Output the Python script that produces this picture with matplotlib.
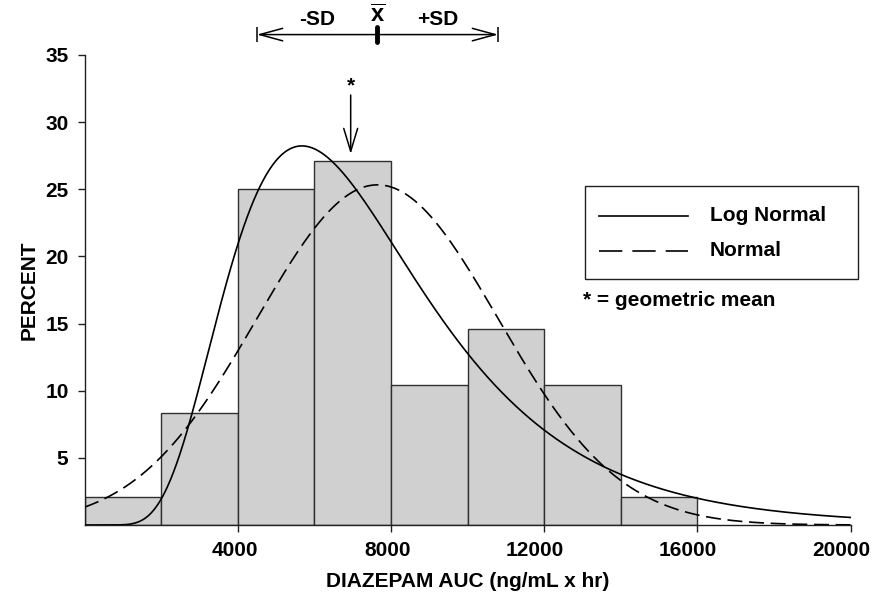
import numpy as np
import matplotlib
matplotlib.use("Agg")
import matplotlib.pyplot as plt
from matplotlib.patches import Rectangle
from matplotlib.transforms import ScaledTranslation

plt.rcParams["font.family"] = ["Liberation Sans", "DejaVu Sans"]
plt.rcParams["font.weight"] = "bold"
plt.rcParams["mathtext.fontset"] = "custom"
plt.rcParams["mathtext.bf"] = "Liberation Sans:bold"
plt.rcParams["mathtext.rm"] = "Liberation Sans:bold"

# Histogram of diazepam AUC (percent of subjects per 2000 ng/mL x hr bin)
bin_edges = [0, 2000, 4000, 6000, 8000, 10000, 12000, 14000, 16000]
percent = [2.08, 8.33, 25.0, 27.08, 10.42, 14.58, 10.42, 2.08]

# Fitted distribution parameters
arith_mean = 7650.0
arith_sd = 3150.0
geo_mean = 6950.0
log_sd = 0.45

x_ticks = [4000, 8000, 12000, 16000, 20000]
y_ticks = [5, 10, 15, 20, 25, 30, 35]

bin_width = bin_edges[1] - bin_edges[0]
FS = 15

fig = plt.figure(figsize=(8.76, 5.96), dpi=100)
ax = fig.add_axes([84.5 / 876, 71 / 596, 766 / 876, 470 / 596])
ax.set_xlim(0, 20000)
ax.set_ylim(0, 35)

ax.bar(bin_edges[:-1], percent, width=bin_width, align="edge",
       color="#d0d0d0", edgecolor="#303030", linewidth=1.0, zorder=1)

# Density curves scaled to percent per bin
x = np.linspace(1, 20000, 1000)
scale = bin_width * 100
lognorm = (np.exp(-(np.log(x) - np.log(geo_mean)) ** 2 / (2 * log_sd ** 2))
           / (x * log_sd * np.sqrt(2 * np.pi))) * scale
norm = (np.exp(-(x - arith_mean) ** 2 / (2 * arith_sd ** 2))
        / (arith_sd * np.sqrt(2 * np.pi))) * scale
ax.plot(x, lognorm, color="black", lw=1.2, zorder=3)
ax.plot(x, norm, color="black", lw=1.2, dashes=(9, 4), zorder=3)

for side in ("top", "right"):
    ax.spines[side].set_visible(False)
for side in ("left", "bottom"):
    ax.spines[side].set_linewidth(1.0)
    ax.spines[side].set_color("#202020")

ax.set_xticks(x_ticks)
ax.set_yticks(y_ticks)
ax.tick_params(length=5, width=1.0, pad=6.5, labelsize=FS, color="#202020")
# x tick labels sit right-aligned a little past their ticks
shift = ScaledTranslation(20 / 100, 0, fig.dpi_scale_trans)
for lbl in ax.get_xticklabels():
    lbl.set_horizontalalignment("right")
    lbl.set_transform(lbl.get_transform() + shift)
ax.set_xlabel("DIAZEPAM AUC (ng/mL x hr)", fontsize=FS, fontweight="bold", labelpad=9)
ax.set_ylabel("PERCENT", fontsize=FS, fontweight="bold", labelpad=5)

# Mean +/- SD marker above the plot
y_sd = 36.52
ax.annotate("", xy=(arith_mean - arith_sd, y_sd), xytext=(arith_mean + arith_sd, y_sd),
            arrowprops=dict(arrowstyle="<->,head_length=1.65,head_width=0.45",
                            lw=1.1, color="black", shrinkA=0, shrinkB=0,
                            mutation_scale=10),
            annotation_clip=False)
ax.vlines([arith_mean - arith_sd, arith_mean + arith_sd], 36.0, 37.05,
          color="black", lw=1.1, clip_on=False)
ax.plot([arith_mean, arith_mean], [35.95, 37.05], color="black", lw=3.5,
        solid_capstyle="round", clip_on=False)
ax.text(arith_mean - arith_sd / 2, 37.2, "-SD", ha="center", va="baseline",
        fontsize=FS, fontweight="bold")
ax.text(arith_mean + arith_sd / 2, 37.2, "+SD", ha="center", va="baseline",
        fontsize=FS, fontweight="bold")
ax.text(arith_mean, 37.4, r"$\overline{\mathbf{x}}$", ha="center", va="baseline",
        fontsize=17)

# Geometric mean marker
ax.text(geo_mean, 32.7, "*", ha="center", va="center", fontsize=FS, fontweight="bold")
ax.annotate("", xy=(geo_mean, 27.63), xytext=(geo_mean, 32.02),
            arrowprops=dict(arrowstyle="->,head_length=1.65,head_width=0.5",
                            lw=1.1, color="black", shrinkA=0, shrinkB=0,
                            mutation_scale=10),
            annotation_clip=False)

# Legend box
ax.add_patch(Rectangle((0.6534, 0.523), 0.3564, 0.199, transform=ax.transAxes,
                       fill=False, edgecolor="#202020", lw=1.0, clip_on=False))
ax.plot([0.6723, 0.788], [0.658, 0.658], transform=ax.transAxes, color="black",
        lw=1.2, clip_on=False)
ax.plot([0.6723, 0.788], [0.584, 0.584], transform=ax.transAxes, color="black",
        lw=1.2, dashes=(14, 6), clip_on=False)
ax.text(0.8166, 0.658, "Log Normal", transform=ax.transAxes, ha="left", va="center",
        fontsize=FS, fontweight="bold")
ax.text(0.8166, 0.584, "Normal", transform=ax.transAxes, ha="left", va="center",
        fontsize=FS, fontweight="bold")
ax.text(0.6508, 0.477, "* = geometric mean", transform=ax.transAxes, ha="left",
        va="center", fontsize=FS, fontweight="bold")

fig.savefig("out.png", dpi=100)
